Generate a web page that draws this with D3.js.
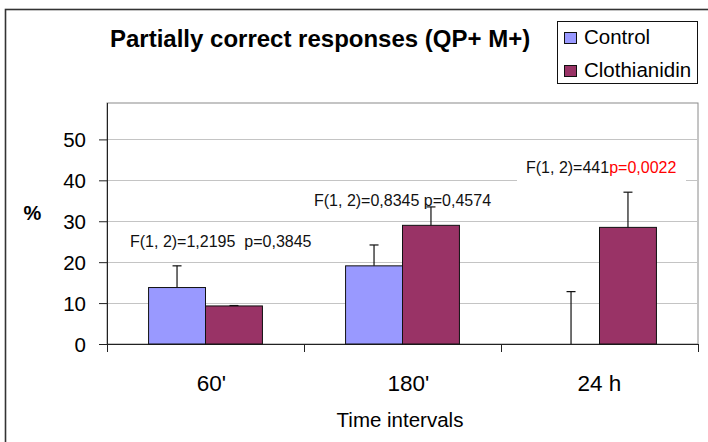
<!DOCTYPE html>
<html>
<head>
<meta charset="utf-8">
<script src="https://cdn.jsdelivr.net/npm/d3@7"></script>
<style>
  html, body { margin: 0; padding: 0; background: #fff; }
  svg { display: block; font-family: "Liberation Sans", Arial, Helvetica, sans-serif; }
  text { white-space: pre; }
</style>
</head>
<body>
<svg id="chart" width="708" height="442"></svg>
<script>
// ---- data ----
const categories = ["60'", "180'", "24 h"];
const seriesNames = ["Control", "Clothianidin"];
const controlValues = [13.8, 19.1, 0];
const controlErrors = [5.3, 5.1, 12.8];
const clothianidinValues = [9.3, 29.0, 28.5];
const clothianidinErrors = [0.1, 4.5, 8.6];
const yTicks = [0, 10, 20, 30, 40, 50];
const statLabels = ["F(1, 2)=1,2195  p=0,3845", "F(1, 2)=0,8345 p=0,4574", "F(1, 2)=441"];
const statPLabels = ["", "", "p=0,0022"];
const titleText = "Partially correct responses (QP+ M+)";
const yLabel = "%";
const xLabel = "Time intervals";

const colors = { "Control": "#9999FF", "Clothianidin": "#993366" };
const seriesData = {
  "Control": { values: controlValues, errors: controlErrors },
  "Clothianidin": { values: clothianidinValues, errors: clothianidinErrors }
};

const svg = d3.select("#chart");
const font = '"Liberation Sans", Arial, Helvetica, sans-serif';

// outer chart border
svg.append("rect").attr("x", 5.5).attr("y", 9.5).attr("width", 740).attr("height", 460)
  .attr("fill", "#fff").attr("stroke", "#333").attr("stroke-width", 1.6);

// plot geometry
const plotLeft = 107, plotRight = 698, plotTop = 103, plotBottom = 344;
const x = d3.scaleBand().domain(categories).range([plotLeft, plotRight]).paddingInner(0).paddingOuter(0);
const xs = d3.scaleBand().domain(seriesNames).range([0, x.bandwidth()]).paddingInner(0).paddingOuter(0.73);
const y = d3.scaleLinear().domain([0, 50]).range([plotBottom, 139.4]);

// plot area
svg.append("rect").attr("x", plotLeft).attr("y", plotTop)
  .attr("width", plotRight - plotLeft).attr("height", plotBottom - plotTop)
  .attr("fill", "#fff").attr("stroke", "#8a8a8a").attr("stroke-width", 1);

// gridlines
svg.append("g").selectAll("line").data(yTicks.filter(d => d > 0)).join("line")
  .attr("x1", plotLeft).attr("x2", plotRight)
  .attr("y1", d => Math.round(y(d)) + 0.5).attr("y2", d => Math.round(y(d)) + 0.5)
  .attr("stroke", "#c4c4c4").attr("stroke-width", 1);

// y axis
const yAxis = d3.axisLeft(y).tickValues(yTicks).tickSize(8).tickPadding(13).tickFormat(d3.format("d"));
const gy = svg.append("g").attr("transform", `translate(${plotLeft},0)`).call(yAxis);
gy.select(".domain").remove();
gy.selectAll(".tick line").attr("stroke", "#222");
gy.selectAll(".tick text").attr("font-family", font).attr("font-size", 20.5).attr("fill", "#000")
  .attr("dy", "0.36em");
svg.append("line").attr("x1", plotLeft + 0.5).attr("x2", plotLeft + 0.5)
  .attr("y1", plotTop).attr("y2", plotBottom).attr("stroke", "#222");

// x axis line + boundary ticks
svg.append("line").attr("x1", plotLeft).attr("x2", plotRight)
  .attr("y1", plotBottom + 0.5).attr("y2", plotBottom + 0.5).attr("stroke", "#222");
const boundaries = categories.map(c => x(c)).concat([x(categories[categories.length - 1]) + x.bandwidth()]);
svg.append("g").selectAll("line").data(boundaries).join("line")
  .attr("x1", d => Math.round(d) + 0.5).attr("x2", d => Math.round(d) + 0.5)
  .attr("y1", plotBottom).attr("y2", plotBottom + 8).attr("stroke", "#222");

// category labels
svg.append("g").selectAll("text").data(categories).join("text")
  .attr("x", d => x(d) + x.bandwidth() / 2 + (d.endsWith("'") ? 6 : 0))
  .attr("y", 391)
  .attr("text-anchor", "middle").attr("font-size", 22.5).attr("fill", "#000")
  .text(d => d);

// bars
const barData = [];
seriesNames.forEach(s => categories.forEach((c, i) => {
  barData.push({ s, c, v: seriesData[s].values[i], e: seriesData[s].errors[i] });
}));
svg.append("g").selectAll("rect").data(barData.filter(d => d.v > 0)).join("rect")
  .attr("x", d => x(d.c) + xs(d.s))
  .attr("y", d => y(d.v))
  .attr("width", xs.bandwidth())
  .attr("height", d => y(0) - y(d.v))
  .attr("fill", d => colors[d.s]).attr("stroke", "#111").attr("stroke-width", 1);

// error bars (upper only)
const eg = svg.append("g").attr("stroke", "#111").attr("stroke-width", 1.2);
barData.forEach(d => {
  const cx = x(d.c) + xs(d.s) + xs.bandwidth() / 2;
  eg.append("line").attr("x1", cx).attr("x2", cx).attr("y1", y(d.v)).attr("y2", y(d.v + d.e));
  eg.append("line").attr("x1", cx - 4.5).attr("x2", cx + 4.5).attr("y1", y(d.v + d.e)).attr("y2", y(d.v + d.e));
});

// statistics annotations (placed above each group)
const annX = [23, 10, 25];
const annY = [23.6, 33.8, 41.7];
categories.forEach((c, i) => {
  const ax = x(c) + annX[i];
  const ay = y(annY[i]);
  if (statPLabels[i]) {
    svg.append("rect").attr("x", ax - 9).attr("y", ay - 18).attr("width", 169).attr("height", 27)
      .attr("fill", "#fff");
  }
  const t = svg.append("text").attr("x", ax).attr("y", ay).attr("font-size", 16).attr("fill", "#111");
  t.append("tspan").text(statLabels[i]);
  if (statPLabels[i]) t.append("tspan").attr("fill", "#ff0000").text(statPLabels[i]);
});

// error bars on top of annotations
svg.node().appendChild(eg.node());

// title
svg.append("text").attr("x", 110).attr("y", 47).attr("font-size", 24).attr("font-weight", "bold")
  .attr("fill", "#000").text(titleText);

// axis titles
svg.append("text").attr("x", 32.5).attr("y", 220).attr("text-anchor", "middle")
  .attr("font-size", 20).attr("font-weight", "bold").attr("fill", "#000").text(yLabel);
svg.append("text").attr("x", 400).attr("y", 427).attr("text-anchor", "middle")
  .attr("font-size", 20.5).attr("fill", "#000").text(xLabel);

// legend
const lg = svg.append("g");
lg.append("rect").attr("x", 557.5).attr("y", 21.5).attr("width", 140).attr("height", 62)
  .attr("fill", "#fff").attr("stroke", "#111").attr("stroke-width", 1);
seriesNames.forEach((s, i) => {
  lg.append("rect").attr("x", 564.5).attr("y", 32.5 + i * 33).attr("width", 12).attr("height", 11)
    .attr("fill", colors[s]).attr("stroke", "#111").attr("stroke-width", 1);
  lg.append("text").attr("x", 584).attr("y", 43.5 + i * 33).attr("font-size", 20.5).attr("fill", "#000").text(s);
});
</script>
</body>
</html>
